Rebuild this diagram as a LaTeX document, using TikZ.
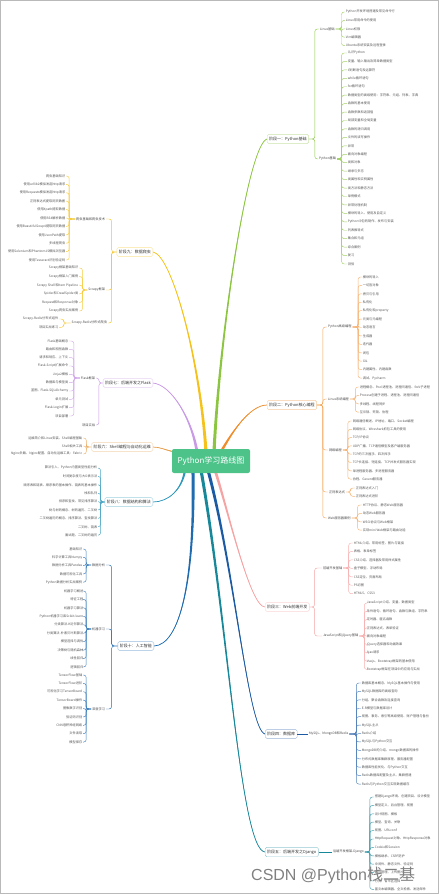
\documentclass[tikz,border=0pt]{standalone}
\usepackage{fontspec}
\setmainfont{Noto Sans CJK SC}
\newfontfamily\wmlat{Liberation Sans}
\usetikzlibrary{calc,backgrounds}
\definecolor{rootg}{HTML}{4DC38A}
\definecolor{cG}{HTML}{8CC540}
\definecolor{cO}{HTML}{F08C2A}
\definecolor{cP}{HTML}{F6A3A3}
\definecolor{cB}{HTML}{1C5BA3}
\definecolor{cT}{HTML}{17879A}
\definecolor{cY}{HTML}{F5C21B}
\definecolor{cV}{HTML}{C99AE6}
\definecolor{cS}{HTML}{E6A150}
\definecolor{cE}{HTML}{2D98BB}
\definecolor{cA}{HTML}{1E6BB0}
\definecolor{leafgray}{HTML}{555555}
\definecolor{subgray}{HTML}{4A4A4A}
\definecolor{stagegray}{HTML}{333333}
\definecolor{wmc}{HTML}{808080}
\tikzset{
  leaf/.style={font=\fontsize{3.2}{3.8}\selectfont, text=leafgray, inner sep=0.6pt},
  sublabel/.style={font=\fontsize{3.2}{3.8}\selectfont, text=subgray, inner sep=0.8pt},
  stage/.style={draw=#1!45, fill=white, rounded corners=1.5pt, line width=0.4pt,
    font=\fontsize{4}{4.8}\selectfont, text=stagegray, inner xsep=2pt, inner ysep=2.5pt},
  conn/.style={draw=#1, line width=0.45pt, rounded corners=2.5pt},
  root/.style={fill=rootg, rounded corners=2pt, text=white, font=\fontsize{8}{9}\selectfont,
    minimum width=78pt, minimum height=24pt, inner sep=0pt},
}
\newcommand\RL[7]{\foreach \lt [count=\i] in {#7}{%
  \node[leaf,anchor=west] (#1-\i) at (#3,{#4+(\i-1)*#5}) {\lt};
  \draw[conn=#6] (#1.east) -- ++(#2,0) |- (#1-\i.west);}}
\newcommand\LL[7]{\foreach \lt [count=\i] in {#7}{%
  \node[leaf,anchor=east] (#1-\i) at (#3,{#4+(\i-1)*#5}) {\lt};
  \draw[conn=#6] (#1.west) -- ++(-#2,0) |- (#1-\i.east);}}
\newcommand\mbranch[6]{%
  \fill[#1] ($(#2)+#6$) .. controls ($#3+0.5*#6$) and #4 .. (#5) .. controls #4 and ($#3-0.5*#6$) .. ($(#2)-#6$) -- cycle;
  \draw[#1, line width=0.7pt] (#2) .. controls #3 and #4 .. (#5);}
\begin{document}
\begin{tikzpicture}[x=1pt,y=-1pt]
\useasboundingbox (0,0) rectangle (440,894);
\draw[gray!55, line width=1pt] (0.5,0.5) rectangle (438.5,893.5);

% root
\node[root] (c) at (211,461) {Python学习路线图};

% stages right
\node[stage=cG, anchor=west] (s1) at (267,139) {阶段一：Python基础};
\node[stage=cO, anchor=west] (s2) at (267,405) {阶段二：Python核心编程};
\node[stage=cP, anchor=west] (s3) at (265,607) {阶段三：Web前端开发};
\node[stage=cB, anchor=west] (s4) at (265,734) {阶段四：数据库};
\node[stage=cT, anchor=west] (s5) at (265,852) {阶段五：后端开发之Django};
% stages left
\node[stage=cY, anchor=east] (s9) at (153,252) {阶段九：数据爬虫};
\node[stage=cV, anchor=east] (s7) at (153,383) {阶段七：后端开发之Flask};
\node[stage=cS, anchor=east] (s6) at (153,447) {阶段六：Shell编程与自动化运维};
\node[stage=cE, anchor=east] (s8) at (153,502) {阶段八：数据结构和算法};
\node[stage=cA, anchor=east] (s10) at (154,646) {阶段十：人工智能};

% main branches
\coordinate (b1s) at ($(c.north)+(3,3)$);
\coordinate (b2s) at ($(c.north)+(10,3)$);
\coordinate (b3s) at ($(c.south)+(4,-3)$);
\coordinate (b4s) at ($(c.south)+(-3,-3)$);
\coordinate (b5s) at ($(c.south)+(-10,-3)$);
\coordinate (b9s) at ($(c.north)+(-5,3)$);
\coordinate (b7s) at ($(c.north)+(-14,3)$);
\coordinate (b6s) at ($(c.west)+(3,-9)$);
\coordinate (b8s) at ($(c.south)+(-26,-3)$);
\coordinate (b10s) at ($(c.south)+(-18,-3)$);
\begin{pgfonlayer}{background}
\mbranch{cG}{b1s}{(220,330)}{(248,145)}{s1.west}{(1.6,0)}
\mbranch{cO}{b2s}{(232,432)}{(250,405)}{s2.west}{(1.6,0)}
\mbranch{cP}{b3s}{(228,510)}{(250,607)}{s3.west}{(1.5,0)}
\mbranch{cB}{b4s}{(235,570)}{(248,730)}{s4.west}{(1.6,0)}
\mbranch{cT}{b5s}{(228,620)}{(240,850)}{s5.west}{(1.6,0)}
\mbranch{cY}{b9s}{(200,360)}{(172,255)}{s9.east}{(1.6,0)}
\mbranch{cV}{b7s}{(192,420)}{(172,385)}{s7.east}{(1.5,0)}
\mbranch{cS}{b6s}{(165,450)}{(160,447)}{s6.east}{(0,0.6)}
\mbranch{cE}{b8s}{(182,490)}{(168,502)}{s8.east}{(1.2,0)}
\mbranch{cA}{b10s}{(195,580)}{(180,645)}{s10.east}{(1.6,0)}
\end{pgfonlayer}

% sub labels right
\node[sublabel, anchor=west] (linux) at (319,29) {Linux基础};
\node[sublabel, anchor=west] (pyb) at (318,159) {Python基础};
\node[sublabel, anchor=west] (pyadv) at (327,327) {Python高级编程};
\node[sublabel, anchor=west] (linsys) at (327,399) {Linux系统编程};
\node[sublabel, anchor=west] (net) at (328,450) {网络编程};
\node[sublabel, anchor=west] (regex) at (328,492) {正则表达式};
\node[sublabel, anchor=west] (websrv) at (327,518) {Web服务器案例};
\node[sublabel, anchor=west] (fe) at (322,568) {前端开发基础};
\node[sublabel, anchor=west] (js) at (322,636) {JavaScript和jQuery基础};
\node[sublabel, anchor=west] (db) at (308,734) {MySQL、MongoDB和Redis};
\node[sublabel, anchor=west] (dj) at (332,852) {后端开发框架-Django};
% sub labels left
\node[sublabel, anchor=east] (spb) at (106,219) {爬虫基础和爬虫技术};
\node[sublabel, anchor=east] (scr) at (106,290) {Scrapy框架};
\node[sublabel, anchor=east] (scrr) at (108,323) {Scrapy-Redis分布式爬虫};
\node[sublabel, anchor=east] (flask) at (96,378) {Flask框架};
\node[sublabel, anchor=east] (proj) at (96,425) {项目实战};
\node[sublabel, anchor=east] (da) at (106,565) {数据分析};
\node[sublabel, anchor=east] (ml) at (106,629) {机器学习};
\node[sublabel, anchor=east] (dl) at (106,709) {深度学习};

% stage to sub connectors
\foreach \s in {linux,pyb} {\draw[conn=cG] (s1.east) -- ++(6,0) |- (\s.west);}
\foreach \s in {pyadv,linsys,net,regex,websrv} {\draw[conn=cO!80] (s2.east) -- ++(6,0) |- (\s.west);}
\foreach \s in {fe,js} {\draw[conn=cP] (s3.east) -- ++(5,0) |- (\s.west);}
\draw[conn=cB] (s4.east) -- (db.west);
\draw[conn=cT] (s5.east) -- (dj.west);
\foreach \s in {spb,scr,scrr} {\draw[conn=cY] (s9.west) -- ++(-5,0) |- (\s.east);}
\foreach \s in {flask,proj} {\draw[conn=cV] (s7.west) -- ++(-4,0) |- (\s.east);}
\foreach \s in {da,ml,dl} {\draw[conn=cA] (s10.west) -- ++(-6,0) |- (\s.east);}

% leaves right
\RL{linux}{6}{345}{12}{8.4}{cG!80}{Python开发环境搭建及常见命令行, Linux常用命令的使用, Linux权限, Vim编辑器, Ubuntu系统安装及远程登录}
\RL{pyb}{4.5}{347}{53}{8.44}{cG!80}{认识Python, 变量、输入输出及简单数据类型, if判断语句及运算符, while循环语句, for循环语句, 数据类型的高级使用：字符串、元组、列表、字典, 函数的基本使用, 函数参数和返回值, 局部变量和全局变量, 函数的递归调用, 文件的读写操作, 异常, 面向对象编程, 类和对象, 继承与多态, 类属性和实例属性, 类方法和静态方法, 单例模式, 异常处理机制, 模块的导入、使用及自定义, Python中包的制作、发布与安装, 列表推导式, 集合和元组, 综合案例, 复习, 测验}
\RL{pyadv}{5.5}{362}{277}{8.42}{cO!65}{模块的导入, 一切皆对象, 拷贝与引用, 私有化, 私有化和property, 元类与元编程, 动态语言, 生成器, 迭代器, 闭包, GIL, 内建属性、内建函数, 调试、Pycharm}
\RL{linsys}{5.5}{359}{387}{8.4}{cO!65}{进程概念、Pool进程池、进程间通信、fork子进程, Process创建子进程、进程池、进程间通信, 多线程、线程同步, 互斥锁、死锁、协程}
\RL{net}{5}{352}{421}{8.3}{cO!65}{网络通信概述、IP地址、端口、Socket编程, 网络协议、Wireshark抓包工具的使用, TCP/IP协议, UDP广播、TCP通信模型及客户端服务器, TCP的三次握手、四次挥手, TCP长连接、短连接、TCP并发式服务器实现, 单进程服务器、多进程服务器, 协程、Gevent服务器}
\RL{regex}{4.5}{355}{488}{8.4}{cO!65}{正则表达式入门, 正则表达式进阶}
\RL{websrv}{6}{362}{505}{8.4}{cO!65}{HTTP协议、静态Web服务器, 动态Web服务器, WSGI协议与Web框架, 实现mini Web框架与路由功能}
\RL{fe}{5.5}{353}{543}{8.45}{cP!85}{HTML介绍、常用标签、图片与链接, 表格、表单标签, CSS介绍、选择器及常用样式属性, 盒子模型、浮动布局, CSS定位、页面布局, PS切图, HTML5、CSS3}
\RL{js}{5}{366}{603}{8.3}{cP!85}{JavaScript介绍、变量、数据类型, 条件语句、循环语句、函数与数组、字符串, 定时器、匿名函数, 正则表达式、表单验证, 面向对象编程, jQuery选择器和动画效果, Ajax请求, Vuejs、Bootstrap框架的基本使用, Bootstrap框架在项目中的应用与实战}
\RL{db}{7}{361}{683}{8.42}{cB!75}{数据库基本概念、MySQL基本操作与使用, MySQL数据库的高级查询, 分组、聚合函数及连接查询, E-R模型与数据库设计, 视图、事务、索引等高级使用、账户管理与备份, MySQL主从, Redis介绍, MySQL与Python交互, MongoDB的介绍、mongo数据库的操作, 分布式数据库集群原理、服务器配置, 数据库性能优化、与Python交互, Redis数据库配置及主从、集群搭建, Redis与Python交互实现数据缓存}
\RL{dj}{5}{374}{797}{8.4}{cT!80}{搭建Django环境、创建项目、设计模型, 模型定义、后台管理、视图, 设计视图、模板, 模型、查询、关联, 视图、URLconf, HttpRequest对象、HttpResponse对象, Cookie和Session, 模板继承、CSRF防护, 中间件、静态文件、验证码, 后台管理、上传图片, 分页、省市区选择, 富文本编辑器、全文检索、发送邮件}

% leaves left
\LL{spb}{6}{66}{176}{8.4}{cY!85}{爬虫基础知识, 使用urllib2模拟发起http请求, 使用Requests模拟发起http请求, 正则表达式提取网页数据, 使用Xpath提取数据, 使用BS4解析数据, 使用BeautifulSoup4提取网页数据, 使用JsonPath提取, 多线程爬虫, 使用Selenium和PhantomJS模拟浏览器, 使用Tesseract识别验证码}
\LL{scr}{5}{79}{268}{8.6}{cY!85}{Scrapy框架基础知识, Scrapy框架入门案例, Scrapy Shell和Item Pipeline, Spider和CrawlSpider类, Request和Response对象, Scrapy爬虫实战案例}
\LL{scrr}{7}{59}{319}{8.4}{cY!85}{Scrapy-Redis分布式组件, 项目实战练习}
\LL{flask}{6}{69}{341}{8.33}{cV!85}{Flask基础概念, 路由和视图函数, 请求和响应、上下文, Flask-Script扩展命令, Jinja2模板, 数据库与模型类, 蓝图、Flask-SQLAlchemy, 单元测试, Flask-Login扩展, 项目部署}
\LL{s6}{5}{83}{438}{8}{cS!85}{运维简介和Linux安装、Shell编程基础, Shell相关工具, Nginx负载、Nginx配置、自动化运维工具：Fabric}
\LL{s8}{4}{98}{468}{8.4}{cE!85}{算法引入、Python内置类型性能分析, 时间复杂度与大O表示法, 顺序表和链表、顺序表的基本操作、链表的基本操作, 栈和队列, 排序和查找、常见排序算法, 树与树的概念、树的遍历、二叉树, 二叉树遍历的概念、排序算法、查找算法, 二叉树、链表, 面试题、二叉树的遍历}
\LL{da}{5}{83}{549}{8.3}{cA!85}{基础知识, 科学计算工具Numpy, 数据分析工具Pandas, 数据可视化工具, Python数据分析实战案例}
\LL{ml}{5}{84}{591}{8.44}{cA!85}{机器学习概述, 特征工程, 机器学习算法, Python机器学习库Scikit-learn, 分类算法-K近邻算法, 分类算法-朴素贝叶斯算法, 模型选择与调优, 决策树与随机森林, 线性回归, 逻辑回归}
\LL{dl}{5}{83}{675}{8.38}{cA!85}{TensorFlow基础, TensorFlow进阶, 可视化学习TensorBoard, TensorBoard操作, 图像数字识别, 验证码识别, CNN卷积神经网络, 文件读取, 模型保存}

% watermark
\node[anchor=west, text=wmc, font=\fontsize{16}{18}\selectfont, inner sep=0pt] (wm) at (251,875) {{\wmlat CSDN @Python}栈二基};
\end{tikzpicture}
\end{document}
